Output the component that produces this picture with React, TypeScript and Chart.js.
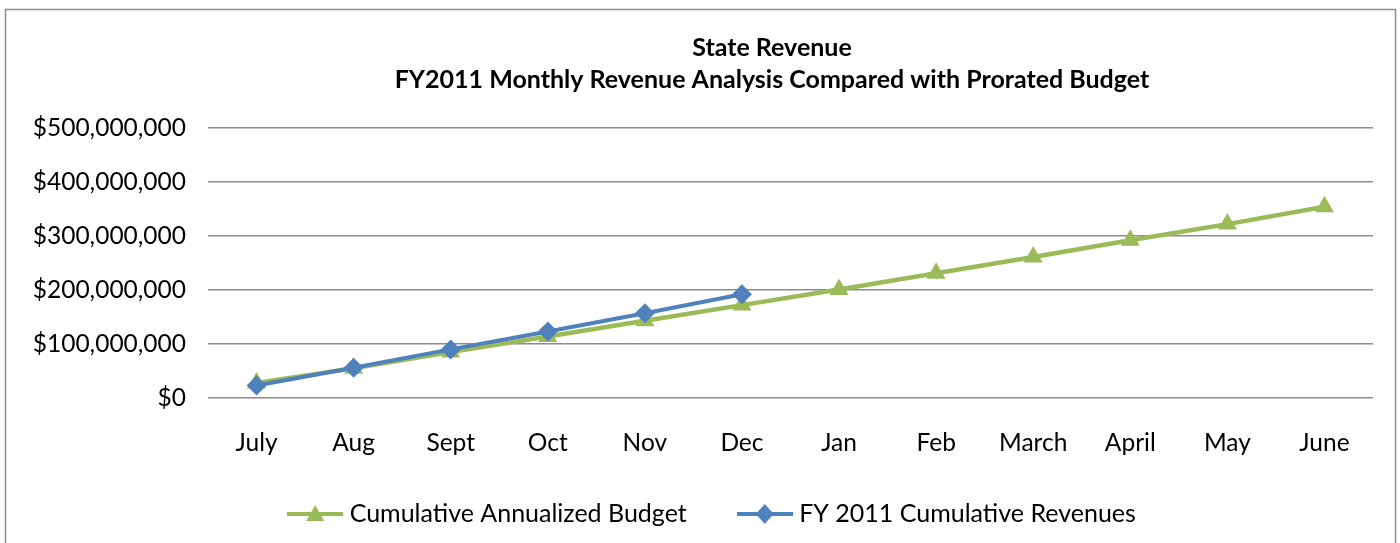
import React, { useEffect, useRef } from "react";
import { Chart, registerables } from "chart.js";

Chart.register(...registerables);

const months = ["July", "Aug", "Sept", "Oct", "Nov", "Dec", "Jan", "Feb", "March", "April", "May", "June"];
const budget = [28e6, 55e6, 85e6, 114e6, 143e6, 172e6, 201e6, 231e6, 261e6, 292e6, 322e6, 354e6];
const revenues = [23e6, 56e6, 90e6, 123e6, 157e6, 192e6];
const titleLines = ["State Revenue", "FY2011 Monthly Revenue Analysis Compared with Prorated Budget"];
const seriesNames = ["Cumulative Annualized Budget", "FY 2011 Cumulative Revenues"];

const GREEN = "#9BBB59";
const BLUE = "#4F81BD";
const FONT = "Lato";

function legendIcon(color: string, shape: "triangle" | "diamond"): HTMLCanvasElement {
  const c = document.createElement("canvas");
  c.width = 56;
  c.height = 22;
  const ctx = c.getContext("2d")!;
  ctx.strokeStyle = color;
  ctx.lineWidth = 4;
  ctx.beginPath();
  ctx.moveTo(0, 11);
  ctx.lineTo(56, 11);
  ctx.stroke();
  ctx.fillStyle = color;
  ctx.beginPath();
  if (shape === "triangle") {
    ctx.moveTo(28, 2);
    ctx.lineTo(37, 18);
    ctx.lineTo(19, 18);
  } else {
    ctx.moveTo(28, 1);
    ctx.lineTo(37, 11);
    ctx.lineTo(28, 21);
    ctx.lineTo(19, 11);
  }
  ctx.closePath();
  ctx.fill();
  return c;
}

const framePlugin = {
  id: "frame",
  afterLayout(chart: any) {
    const lg = chart.legend;
    if (lg) {
      lg.left += 28;
      lg.right += 28;
      lg.top -= 14.5;
      lg.bottom -= 14.5;
    }
  },
  beforeDraw(chart: any) {
    const ctx = chart.ctx;
    ctx.save();
    ctx.fillStyle = "#ffffff";
    ctx.fillRect(0, 0, chart.width, chart.height);
    ctx.strokeStyle = "#8c8c8c";
    ctx.lineWidth = 1.5;
    ctx.strokeRect(5.5, 9.5, 1390, 600);
    ctx.restore();
  },
  afterDraw(chart: any) {
    const ctx = chart.ctx;
    ctx.save();
    ctx.fillStyle = "#000000";
    ctx.font = `bold 25px ${FONT}`;
    ctx.textAlign = "center";
    ctx.textBaseline = "middle";
    ctx.fillText(titleLines[0], 772, 48);
    ctx.fillText(titleLines[1], 772, 80);
    ctx.restore();
  },
};

export default function App() {
  const ref = useRef<HTMLCanvasElement | null>(null);
  useEffect(() => {
    if (!ref.current) return;
    const chart = new Chart(ref.current, {
      type: "line",
      data: {
        labels: months,
        datasets: [
          {
            label: seriesNames[0],
            data: budget,
            borderColor: GREEN,
            backgroundColor: GREEN,
            borderWidth: 4.5,
            pointStyle: "triangle",
            pointRadius: 11,
            pointBorderWidth: 0,
            pointBackgroundColor: GREEN,
            order: 1,
            tension: 0,
          },
          {
            label: seriesNames[1],
            data: revenues,
            borderColor: BLUE,
            backgroundColor: BLUE,
            borderWidth: 4,
            pointStyle: "rectRot",
            pointRadius: 10,
            pointBorderWidth: 0,
            pointBackgroundColor: BLUE,
            order: 0,
            tension: 0,
          },
        ],
      },
      options: {
        responsive: false,
        animation: false,
        layout: { padding: { top: 128, left: 0, right: 27, bottom: 0 } },
        plugins: {
          title: { display: false },
          tooltip: { enabled: false },
          legend: {
            position: "bottom",
            maxHeight: 83,
            labels: {
              usePointStyle: true,
              pointStyleWidth: 44,
              padding: 56,
              color: "#000000",
              font: { family: FONT, size: 25 },
              sort: (a: any, b: any) => a.datasetIndex - b.datasetIndex,
              generateLabels: (ch: any) =>
                ch.data.datasets.map((ds: any, i: number) => ({
                  text: ds.label,
                  fillStyle: ds.borderColor,
                  strokeStyle: ds.borderColor,
                  lineWidth: 0,
                  pointStyle: legendIcon(ds.borderColor, i === 0 ? "triangle" : "diamond"),
                  datasetIndex: i,
                  hidden: false,
                  fontColor: "#000000",
                })),
            },
          },
        },
        scales: {
          x: {
            offset: true,
            grid: { display: false, drawTicks: false },
            border: { display: false },
            ticks: { color: "#000000", font: { family: FONT, size: 24.5 }, padding: 30, maxRotation: 0 },
            afterFit: (s: any) => {
              s.height = 62;
            },
          },
          y: {
            min: 0,
            max: 500e6,
            grid: { color: "#8c8c8c", lineWidth: 1.5, drawTicks: false },
            border: { display: false },
            ticks: {
              stepSize: 100e6,
              color: "#000000",
              font: { family: FONT, size: 24.5 },
              padding: 22,
              callback: (v: any) => "$" + Number(v).toLocaleString("en-US"),
            },
            afterFit: (s: any) => {
              s.width = 208;
            },
          },
        },
      },
      plugins: [framePlugin],
    });
    return () => chart.destroy();
  }, []);
  return (
    <div style={{ position: "fixed", left: 0, top: 0, width: 1400, height: 543, background: "#fff" }}>
      <canvas ref={ref} width={1400} height={543} />
    </div>
  );
}
